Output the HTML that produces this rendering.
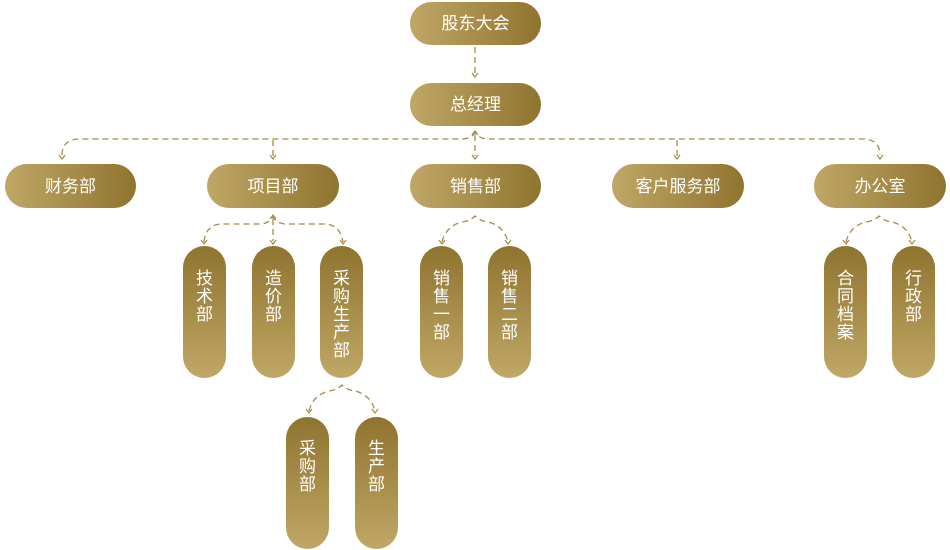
<!DOCTYPE html>
<html><head><meta charset="utf-8"><style>
html,body{margin:0;padding:0;background:#fff;}
svg{display:block;}
text{font-family:"Liberation Sans","Noto Sans CJK SC",sans-serif;fill:#fff;font-size:17px;}
</style></head><body>
<svg width="950" height="550" viewBox="0 0 950 550" xmlns="http://www.w3.org/2000/svg">
<defs>
<linearGradient id="gh" x1="0" y1="0" x2="1" y2="0"><stop offset="0" stop-color="#c1a766"/><stop offset="1" stop-color="#8e742e"/></linearGradient>
<linearGradient id="gv" x1="0" y1="0" x2="0" y2="1"><stop offset="0" stop-color="#8e742e"/><stop offset="1" stop-color="#c1a766"/></linearGradient>
</defs>
<g fill="none" stroke="#a58b45" stroke-width="1.3" stroke-dasharray="6 4">
<path d="M475 47 V74"/>
<path d="M62 155 Q62 139 80 139 H462 Q470 139 475 133 Q480 139 488 139 H862 Q880 139 880 155"/>
<path d="M273 140 V156"/><path d="M475 135 V156"/><path d="M677 140 V156"/>
<path d="M204 242 Q206 224 222 224 H260 Q268 224 273 217 Q278 224 286 224 H324 Q340 224 343 242"/>
<path d="M273 219 V241"/>
<path d="M442 242 Q446 226 462 222 Q470 221 475 216 Q480 221 488 222 Q504 226 508 242"/>
<path d="M846 242 Q850 226 866 222 Q874 221 879 216 Q884 221 892 222 Q908 226 912 242"/>
<path d="M309 411 Q313 395 329 391 Q337 390 342 385 Q347 390 355 391 Q371 395 375 411"/>
</g>
<g fill="none" stroke="#a58b45" stroke-width="1.2">
<path d="M472 73 L475 77 L478 73"/>
<path d="M472 135 L475 131 L478 135"/>
<path d="M59 155 L62 159 L65 155"/><path d="M270 155 L273 159 L276 155"/><path d="M472 155 L475 159 L478 155"/><path d="M674 155 L677 159 L680 155"/><path d="M877 155 L880 159 L883 155"/>
<path d="M270 219 L273 215 L276 219"/>
<path d="M201 240 L204 244 L207 240"/><path d="M270 240 L273 244 L276 240"/><path d="M340 240 L343 244 L346 240"/>
<path d="M439 240 L442 244 L445 240"/><path d="M505 240 L508 244 L511 240"/>
<path d="M843 240 L846 244 L849 240"/><path d="M909 240 L912 244 L915 240"/>
<path d="M306 409 L309 413 L312 409"/><path d="M372 409 L375 413 L378 409"/>
</g>
<g fill="url(#gh)">
<rect x="410" y="2" width="131" height="43" rx="21.5"/>
<rect x="410" y="83" width="131" height="43" rx="21.5"/>
<rect x="5" y="164" width="131" height="44" rx="22"/>
<rect x="207" y="164" width="132" height="44" rx="22"/>
<rect x="410" y="164" width="131" height="44" rx="22"/>
<rect x="612" y="164" width="132" height="44" rx="22"/>
<rect x="814" y="164" width="132" height="44" rx="22"/>
</g>
<g fill="url(#gv)">
<rect x="183" y="246" width="43" height="132" rx="21.5"/>
<rect x="252" y="246" width="43" height="132" rx="21.5"/>
<rect x="320" y="246" width="43" height="132" rx="21.5"/>
<rect x="420" y="246" width="43" height="132" rx="21.5"/>
<rect x="488" y="246" width="43" height="132" rx="21.5"/>
<rect x="824" y="246" width="43" height="132" rx="21.5"/>
<rect x="892" y="246" width="43" height="132" rx="21.5"/>
<rect x="286" y="417" width="43" height="132" rx="21.5"/>
<rect x="355" y="417" width="43" height="132" rx="21.5"/>
</g>
<g text-anchor="middle">
<text x="475.5" y="29">股东大会</text>
<text x="475.5" y="110">总经理</text>
<text x="70.5" y="192">财务部</text>
<text x="273" y="192">项目部</text>
<text x="475.5" y="192">销售部</text>
<text x="678" y="192">客户服务部</text>
<text x="880" y="192">办公室</text>
</g>
<g text-anchor="middle">
<text x="204.5" y="284">技</text><text x="204.5" y="302">术</text><text x="204.5" y="320">部</text>
<text x="273.5" y="284">造</text><text x="273.5" y="302">价</text><text x="273.5" y="320">部</text>
<text x="341.5" y="284">采</text><text x="341.5" y="302">购</text><text x="341.5" y="320">生</text><text x="341.5" y="338">产</text><text x="341.5" y="356">部</text>
<text x="441.5" y="284">销</text><text x="441.5" y="302">售</text><text x="441.5" y="320">一</text><text x="441.5" y="338">部</text>
<text x="509.5" y="284">销</text><text x="509.5" y="302">售</text><text x="509.5" y="320">二</text><text x="509.5" y="338">部</text>
<text x="845.5" y="284">合</text><text x="845.5" y="302">同</text><text x="845.5" y="320">档</text><text x="845.5" y="338">案</text>
<text x="913.5" y="284">行</text><text x="913.5" y="302">政</text><text x="913.5" y="320">部</text>
<text x="307.5" y="454">采</text><text x="307.5" y="472">购</text><text x="307.5" y="490">部</text>
<text x="376.5" y="454">生</text><text x="376.5" y="472">产</text><text x="376.5" y="490">部</text>
</g>
</svg>
</body></html>
